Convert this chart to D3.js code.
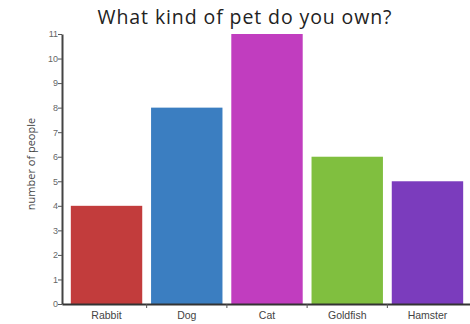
<!DOCTYPE html>
<html>
<head>
<meta charset="utf-8">
<script src="https://cdn.jsdelivr.net/npm/d3@7"></script>
<style>
  body { margin: 0; background: #fff; }
  svg { display: block; font-family: "Open Sans", sans-serif; }
</style>
</head>
<body>
<svg id="chart" width="470" height="324"></svg>
<script>
const PETS = ["Rabbit", "Dog", "Cat", "Goldfish", "Hamster"];
const COUNTS = [4, 8, 11, 6, 5];
const COLORS = ["#c23c3c", "#3b7ec1", "#c13dbf", "#80bf3f", "#7b3cbd"];
const Y_TICKS = [0, 1, 2, 3, 4, 5, 6, 7, 8, 9, 10, 11];

const svg = d3.select("#chart");
const margin = { top: 34, left: 62, bottom: 20, right: -2 };
const width = 470 - margin.left - margin.right;
const height = 324 - margin.top - margin.bottom;

const g = svg.append("g").attr("transform", `translate(${margin.left},${margin.top})`);

const x = d3.scaleBand().domain(PETS).range([0, width]).padding(0.11);
const y = d3.scaleLinear().domain([0, 11]).range([height, 0]);
const color = d3.scaleOrdinal().domain(PETS).range(COLORS);

// bars
g.selectAll(".bar")
  .data(PETS)
  .join("rect")
  .attr("class", "bar")
  .attr("x", (d) => x(d))
  .attr("width", x.bandwidth())
  .attr("y", (d, i) => y(COUNTS[i]))
  .attr("height", (d, i) => height - y(COUNTS[i]))
  .attr("fill", (d) => color(d));

// y axis
const yAxis = g.append("g").call(d3.axisLeft(y).tickValues(Y_TICKS).tickSize(4).tickSizeOuter(0));
yAxis.select(".domain").attr("stroke", "#444").attr("stroke-width", 2);
yAxis.selectAll(".tick line").attr("stroke", "#555");
yAxis.selectAll(".tick text").attr("fill", "#666").attr("font-size", 9).attr("x", -4);

// x axis: labels under bars, ticks at band boundaries
const xAxis = g.append("g").attr("transform", `translate(0,${height})`)
  .call(d3.axisBottom(x).tickSize(0).tickSizeOuter(0).tickPadding(8));
xAxis.select(".domain").attr("stroke", "#333").attr("stroke-width", 2);
xAxis.selectAll(".tick text").attr("fill", "#444").attr("font-size", 10.5);

const step = x.step();
xAxis.selectAll(".sep")
  .data(PETS.slice(1))
  .join("line")
  .attr("class", "sep")
  .attr("x1", (d) => x(d) - (step - x.bandwidth()) / 2)
  .attr("x2", (d) => x(d) - (step - x.bandwidth()) / 2)
  .attr("y1", 0)
  .attr("y2", 4)
  .attr("stroke", "#555");

// axis label
svg.append("text")
  .attr("transform", "translate(35,164) rotate(-90)")
  .attr("text-anchor", "middle")
  .attr("font-size", 11)
  .attr("fill", "#444")
  .text("number of people");

// title
svg.append("text")
  .attr("x", 245)
  .attr("y", 24)
  .attr("text-anchor", "middle")
  .attr("font-size", 19.5)
  .attr("letter-spacing", 0.9)
  .attr("fill", "#222")
  .text("What kind of pet do you own?");
</script>
</body>
</html>
